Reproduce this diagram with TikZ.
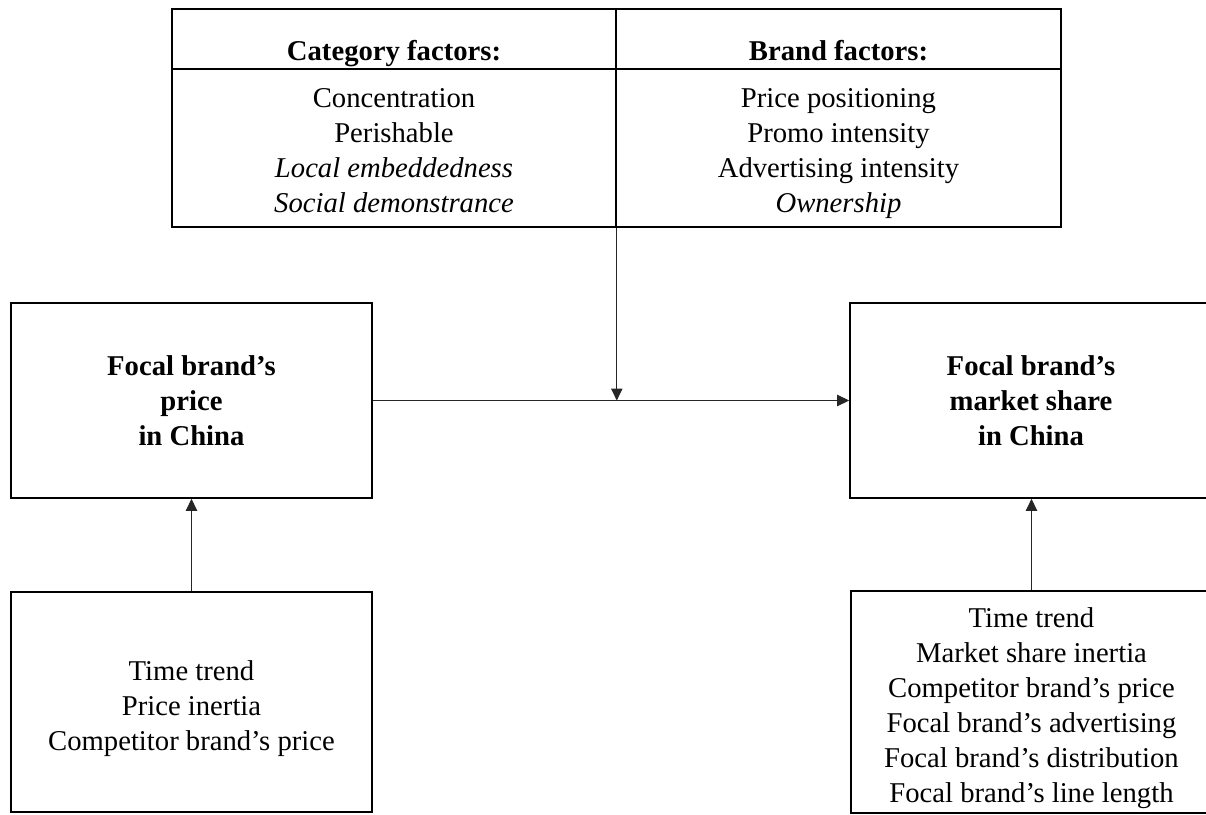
\documentclass[tikz,border=0pt]{standalone}
\usepackage{fontspec}
\setmainfont{Liberation Serif}
\usetikzlibrary{arrows.meta}
\newcommand\firstline[1]{\rule{0pt}{#1}}
\newcommand\lastline{\rule[-7.875pt]{0pt}{7.875pt}}
\begin{document}
\begin{tikzpicture}[x=0.75pt,y=-0.75pt,
  box/.style={draw=black,line width=1.2pt,inner sep=0pt,align=center,
    font=\fontsize{21.5}{26.25}\selectfont},
  headcell/.style={box,text height=31.5pt,text depth=0pt,font=\fontsize{21.5}{26.25}\selectfont\bfseries},
  arr/.style={draw=black!85,line width=0.8pt,-{Triangle[length=9pt,width=8.5pt]}}]
\useasboundingbox (0,0) rectangle (1206,814);
% top table
\node[headcell,minimum width=333pt,minimum height=45pt] (catH) at (394,39) {Category factors:};
\node[headcell,minimum width=333.75pt,minimum height=45pt] (brandH) at (838.5,39) {Brand factors:};
\node[box,minimum width=333pt,minimum height=118.5pt] (catB) at (394,148)
  {\firstline{25.9pt}Concentration\\Perishable\\\textit{Local embeddedness}\\\textit{Social demonstrance}\lastline};
\node[box,minimum width=333.75pt,minimum height=118.5pt] (brandB) at (838.5,148)
  {\firstline{25.9pt}Price positioning\\Promo intensity\\Advertising intensity\\\textit{Ownership}\lastline};
% main boxes
\node[box,minimum width=270.75pt,minimum height=146.25pt] (price) at (191.5,400.5)
  {\bfseries Focal brand’s\\\bfseries price\\\bfseries in China};
\node[box,minimum width=271.5pt,minimum height=146.25pt] (share) at (1031,400.5)
  {\bfseries Focal brand’s\\\bfseries market share\\\bfseries in China};
% control boxes
\node[box,minimum width=270.75pt,minimum height=165pt] (ctrlP) at (191.5,702)
  {\firstline{27.4pt}Time trend\\Price inertia\\Competitor brand’s price\lastline};
\node[box,minimum width=270.75pt,minimum height=165pt] (ctrlS) at (1031.5,702)
  {\firstline{27.4pt}Time trend\\Market share inertia\\Competitor brand’s price\\Focal brand’s advertising\\Focal brand’s distribution\\Focal brand’s line length\lastline};
% connectors
\draw[arr] (price.east) -- (share.west);
\draw[arr] (catB.south east) -- (catB.south east |- price.east);
\draw[arr] (ctrlP.north) -- (price.south);
\draw[arr] (ctrlS.north) -- (ctrlS.north |- share.south);
\end{tikzpicture}
\end{document}
